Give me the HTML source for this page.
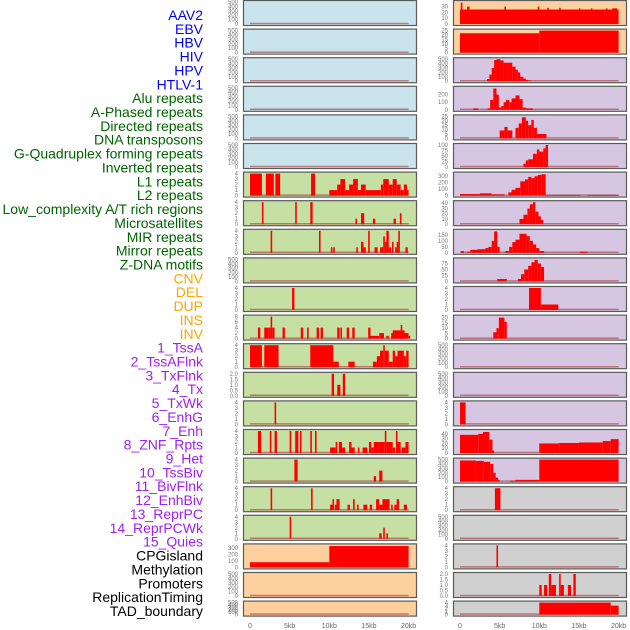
<!DOCTYPE html>
<html><head><meta charset="utf-8">
<style>
html,body{margin:0;padding:0;background:#fff;width:630px;height:630px;overflow:hidden}
svg{display:block;font-family:"Liberation Sans",sans-serif}
</style></head>
<body>
<svg id="c" width="630" height="630"></svg>
<script>
const trackLabels=["AAV2","EBV","HBV","HIV","HPV","HTLV-1","Alu repeats","A-Phased repeats","Directed repeats","DNA transposons","G-Quadruplex forming repeats","Inverted repeats","L1 repeats","L2 repeats","Low_complexity A/T rich regions","Microsatellites","MIR repeats","Mirror repeats","Z-DNA motifs","CNV","DEL","DUP","INS","INV","1_TssA","2_TssAFlnk","3_TxFlnk","4_Tx","5_TxWk","6_EnhG","7_Enh","8_ZNF_Rpts","9_Het","10_TssBiv","11_BivFlnk","12_EnhBiv","13_ReprPC","14_ReprPCWk","15_Quies","CPGisland","Methylation","Promoters","ReplicationTiming","TAD_boundary"];
const labelGroups=[6,13,5,15,5];
const xTickLabels=["0","5kb","10kb","15kb","20kb"];
const xTickValues=[0,5,10,15,20];
// segments: [startKb,endKb,value]
const L6=[[0,1.5,4],[2,3,4],[3.2,3.8,4],[7.7,8.2,4],[10,11,1],[11,11.4,2],[11.4,12,3],[12,12.5,1],[12.5,13,2],[13,13.6,3],[13.6,14,1],[14,14.6,2],[14.6,16.5,1],[16.5,16.8,2],[16.8,17.5,3],[17.5,18,2],[18,18.5,3],[18.5,19,2],[19,19.4,1],[19.4,19.8,2],[19.8,20,1]];
const L7=[[1.5,1.7,4],[5.7,5.9,4],[7.6,7.9,4],[13.3,13.5,1],[14,14.4,2],[15.5,15.8,1],[18.1,18.4,1],[18.9,19.1,2]];
const L8=[[2.6,2.8,4],[8.7,8.9,4],[10.2,10.4,1],[10.5,10.7,1],[13.4,13.6,1],[14,14.3,2],[14.3,14.6,1],[14.9,15.1,4],[15.7,16.1,1],[16.4,16.8,1],[16.8,17,3],[17,17.2,2],[17.2,17.5,4],[17.5,17.8,1],[17.9,18.1,2],[18.3,18.5,1],[18.5,18.7,2],[18.7,18.9,4],[19.6,19.9,1]];
const L10=[[5.3,5.6,4]];
const L11=[[1,1.3,4],[1.8,2.3,4],[2.3,2.6,4],[2.6,2.8,8],[2.8,3.1,4],[4.1,4.4,4],[6.4,6.7,4],[7.2,7.4,4],[8.4,8.7,4],[8.9,9.2,4],[11,11.3,4],[11.4,11.6,4],[12.2,12.5,4],[12.9,13.2,4],[14.9,15.2,4],[15.2,16.3,1],[16.3,16.9,2],[17.2,17.5,1],[17.8,18.2,2],[18.2,18.6,1],[18.6,20,2],[20,20.2,1],[19,19.2,5],[18,19.5,3]];
const L12=[[0,1.5,4],[1.8,3.6,4],[7.6,10.5,4],[10.5,11.2,1],[12.4,13.2,1],[15.5,16,1],[16,16.4,2],[16.4,16.8,3],[16.8,17,4],[17,17.5,3],[17.5,18,1],[18,18.3,3],[18.3,18.6,2],[18.6,19.4,3],[19.4,19.7,2],[19.7,20,3]];
const L13=[[10.3,10.6,2],[11,11.4,1],[11.7,12,2]];
const L14=[[3.1,3.3,4]];
const L15=[[1,1.4,4],[2.5,2.7,4],[3.1,3.4,4],[5,5.2,4],[5.7,6.1,4],[6.3,6.5,4],[7.6,7.8,4],[8.2,8.4,4],[10.1,10.8,1],[10.8,11,2],[11.2,11.6,2],[11.6,12,1],[12.5,12.8,2],[12.8,13.2,1],[13.6,13.8,1],[14.2,14.8,1],[15,15.3,2],[15.3,15.6,1],[15.6,16.2,2],[16.2,17,2],[17,17.2,4],[17.2,18,2],[18,18.3,1],[18.4,18.6,4],[18.6,19,2],[19.1,19.6,1],[19.6,20,2]];
const L16=[[5.6,6,4],[15.6,15.9,1],[16.3,16.7,2]];
const L17=[[2.6,2.8,4],[7.7,7.9,4],[10.1,10.4,1],[10.4,10.6,2],[10.7,10.9,1],[10.9,11.3,2],[12.3,12.6,1],[13,13.2,2],[13.5,13.7,1],[14.3,14.8,1],[15.1,15.4,1],[15.9,16.3,2],[16.3,16.7,1],[16.7,17.6,2],[17.8,18,1],[18.2,18.5,1],[18.5,18.8,2],[19.4,19.8,1]];
const L18=[[5,5.2,4],[16.3,16.6,1],[16.8,17,2],[17.2,17.4,1]];
const L19=[[0,10,80],[10,20,330]];
const R0=[[0,20,25],[0.1,0.3,37],[0.9,1.2,30],[5.6,5.8,30],[9.8,10,30],[11,11.2,28],[12.5,12.7,28],[15,15.2,27],[16.5,16.7,27],[18.4,18.6,27],[19.2,19.8,27]];
const R1=[[0,10,22],[10,20,25]];
const R2=[[3.4,3.7,50],[3.7,4.0,150],[4.0,4.3,300],[4.3,4.6,480],[4.6,5.1,500],[5.1,5.5,470],[5.5,6.0,420],[6.0,6.6,420],[6.6,7.0,330],[7.0,7.3,260],[7.3,7.6,200],[7.6,8.0,100],[8.0,8.3,60],[8.3,8.6,30],[8.6,9.0,15]];
const R3=[[1.7,2.3,20],[3.5,3.8,20],[3.8,4.2,130],[4.2,4.6,280],[4.6,4.9,200],[4.9,5.2,30],[5.2,5.5,50],[5.5,5.8,100],[5.8,6.2,130],[6.2,6.5,100],[6.5,7,150],[7,7.5,190],[7.5,7.9,140],[7.9,8.3,30],[8.3,9.2,20]];
const R4=[[5,5.6,9],[5.6,6,13],[6,6.6,9],[7,7.4,12],[7.4,7.8,17],[7.8,8.3,24],[8.3,8.6,20],[8.6,9,15],[9,9.3,21],[9.3,9.7,12],[9.7,10.9,5]];
const R5=[[8,8.3,15],[8.3,8.6,30],[8.6,9.2,35],[9.2,9.7,60],[9.7,10,80],[10,10.5,70],[10.5,10.8,85],[10.8,11.1,100]];
const R6=[[0,2.5,25],[2.5,4,35],[4,5.6,20],[6.1,6.5,50],[6.5,7,90],[7,7.6,120],[7.6,8.2,220],[8.2,8.6,250],[8.6,9,290],[9,9.4,270],[9.4,9.8,300],[9.8,10.3,320],[10.3,10.8,330],[10.8,15.2,10],[16.1,20,10]];
const R7=[[7.5,8,10],[8,8.5,18],[8.5,8.8,30],[8.8,9.2,38],[9.2,9.5,42],[9.5,9.9,24],[9.9,10.2,15],[10.2,10.5,8]];
const R8=[[0.1,0.5,15],[0.9,1.3,10],[1.3,2.2,25],[2.2,3.2,30],[3.2,3.6,40],[3.6,4,50],[4,4.3,100],[4.3,4.7,180],[4.7,5,50],[5.7,6.2,15],[6.2,6.6,50],[6.6,7,90],[7,7.5,110],[7.5,8.4,160],[8.4,8.8,140],[8.8,9.2,100],[9.2,9.6,70],[9.6,10,40],[10,10.6,15],[15.1,16.1,10]];
const R9=[[4.7,5.9,10],[7.3,7.7,10],[7.7,8.1,30],[8.1,8.6,50],[8.6,9,65],[9,9.4,80],[9.4,9.8,90],[9.8,10.2,75],[10.2,10.6,60]];
const R10=[[8.7,10.2,4],[10.2,12.4,1]];
const R11=[[4.2,4.6,6],[4.6,4.9,10],[4.9,5.6,20],[5.6,5.9,16]];
const R14=[[0,0.7,4]];
const R15=[[0,2.3,38],[2.3,2.9,40],[2.9,3.7,44],[3.7,4.1,28],[4.1,4.3,5],[10,12.5,20],[12.5,15,21],[15,18,22],[18,19,25],[19,20,29]];
const R16=[[0,2,480],[2,3,470],[3,3.8,450],[3.8,4.2,400],[4.2,4.5,200],[4.5,4.8,90],[4.8,5,40],[6.3,7,20],[7,10,40],[10,20,500]];
const R17=[[4.4,5.1,4]];
const R19=[[4.6,4.8,4]];
const R20=[[10,10.3,1],[10.6,11,1],[11.2,11.5,2],[11.5,12.1,1],[12.5,12.7,2],[12.7,13.1,1],[13.6,14,1],[14.3,14.6,2]];
const R21=[[10,19,4],[19,20,3]];
const T500=[0,100,200,300,400,500],T4=[0,1,2,3,4],T8=[0,2,4,6,8],T2=["0.0","0.5","1.0","1.5","2.0"];
const leftPanels=[
["#c9e4ec",500,T500,[]],["#c9e4ec",500,T500,[]],["#c9e4ec",500,T500,[]],["#c9e4ec",500,T500,[]],["#c9e4ec",500,T500,[]],["#c9e4ec",500,T500,[]],
["#c6e0a4",4,T4,L6],["#c6e0a4",4,T4,L7],["#c6e0a4",4,T4,L8],["#c6e0a4",500,T500,[]],["#c6e0a4",4,T4,L10],["#c6e0a4",8,T8,L11],["#c6e0a4",4,T4,L12],["#c6e0a4",2,T2,L13],["#c6e0a4",4,T4,L14],["#c6e0a4",4,T4,L15],["#c6e0a4",4,T4,L16],["#c6e0a4",4,T4,L17],["#c6e0a4",4,T4,L18],
["#fdd09d",340,[0,100,200,300],L19],["#fdd09d",500,T500,[]],["#fdd09d",500,T500,[]]];
const P="#d6c6e2",G="#d0d0d0";
const rightPanels=[
["#fdd09d",38,[0,10,20,30],R0],["#fdd09d",25,[0,5,10,15,20,25],R1],
[P,500,T500,R2],[P,290,[0,100,200],R3],[P,25,[0,5,10,15,20,25],R4],[P,100,[0,25,50,75,100],R5],[P,340,[0,100,200,300],R6],[P,42,[0,10,20,30,40],R7],[P,185,[0,50,100,150],R8],[P,92,[0,25,50,75],R9],[P,4,T4,R10],[P,21,[0,5,10,15,20],R11],[P,500,T500,[]],[P,500,T500,[]],[P,4,T4,R14],[P,46,[0,10,20,30,40],R15],[P,500,T500,R16],
[G,4,T4,R17],[G,500,T500,[]],[G,4,T4,R19],[G,2,T2,R20],[G,4,T4,R21]];
const svg=document.getElementById('c');const NS="http://www.w3.org/2000/svg";
function mk(t,a,p){const e=document.createElementNS(NS,t);for(const k in a)e.setAttribute(k,a[k]);(p||svg).appendChild(e);return e;}
const groupColors=["#0000ff","#006400","#ffa500","#a020f0","#000000"];
let li=0;
labelGroups.forEach((n,g)=>{for(let k=0;k<n;k++){const y=15+li*13.86;
const t=mk('text',{x:203,y:y+5,'text-anchor':'end','font-size':'14',fill:groupColors[g]});


t.textContent=trackLabels[li];li++;}});
function rowTop(i){return i*28.6;}
function drawPanel(cfg,i,px,side){
 const [bg,ymax,ticks,segs]=cfg;
 const top=rowTop(i),h=(i==21?15:25),w=173;
 const g=mk('g',{});
 
 
 mk('rect',{x:px+0.5,y:top+0.5,width:w,height:h,fill:bg,stroke:'#5a5a5a','stroke-width':1.2},g);
 const x0=px+7,xs=7.93;
 const yb=top+h-1,yt=top+2;
 const ys=v=>yb-(v/ymax)*(yb-yt);
 mk('line',{x1:x0,x2:x0+20*xs,y1:yb-0.5,y2:yb-0.5,stroke:'rgba(170,40,40,0.55)','stroke-width':1.5},g);
 segs.forEach(s=>{const r=mk('rect',{x:x0+s[0]*xs,width:Math.max(0.8,(s[1]-s[0])*xs),y:ys(s[2]),height:yb-ys(s[2]),fill:'#ff0000'},g);
  
  });
 ticks.forEach(tv=>{const v=parseFloat(tv);const t=mk('text',{x:px-5,y:ys(v)+2,'text-anchor':'end','font-size':'6',fill:'#777'},g);
  
  
  t.textContent=tv;});
 return {x0,xs};
}
let ax;
leftPanels.forEach((c,i)=>{ax=drawPanel(c,i,243,'left');});
let ax2;
rightPanels.forEach((c,i)=>{ax2=drawPanel(c,i,453,'right');});
[[ax,'left'],[ax2,'right']].forEach(([a,s])=>{xTickValues.forEach((v,k)=>{
 const t=mk('text',{x:a.x0+v*a.xs,y:628,'text-anchor':'middle','font-size':'7',fill:'#666'});
 
 
 t.textContent=xTickLabels[k];});});
</script>
</body></html>
